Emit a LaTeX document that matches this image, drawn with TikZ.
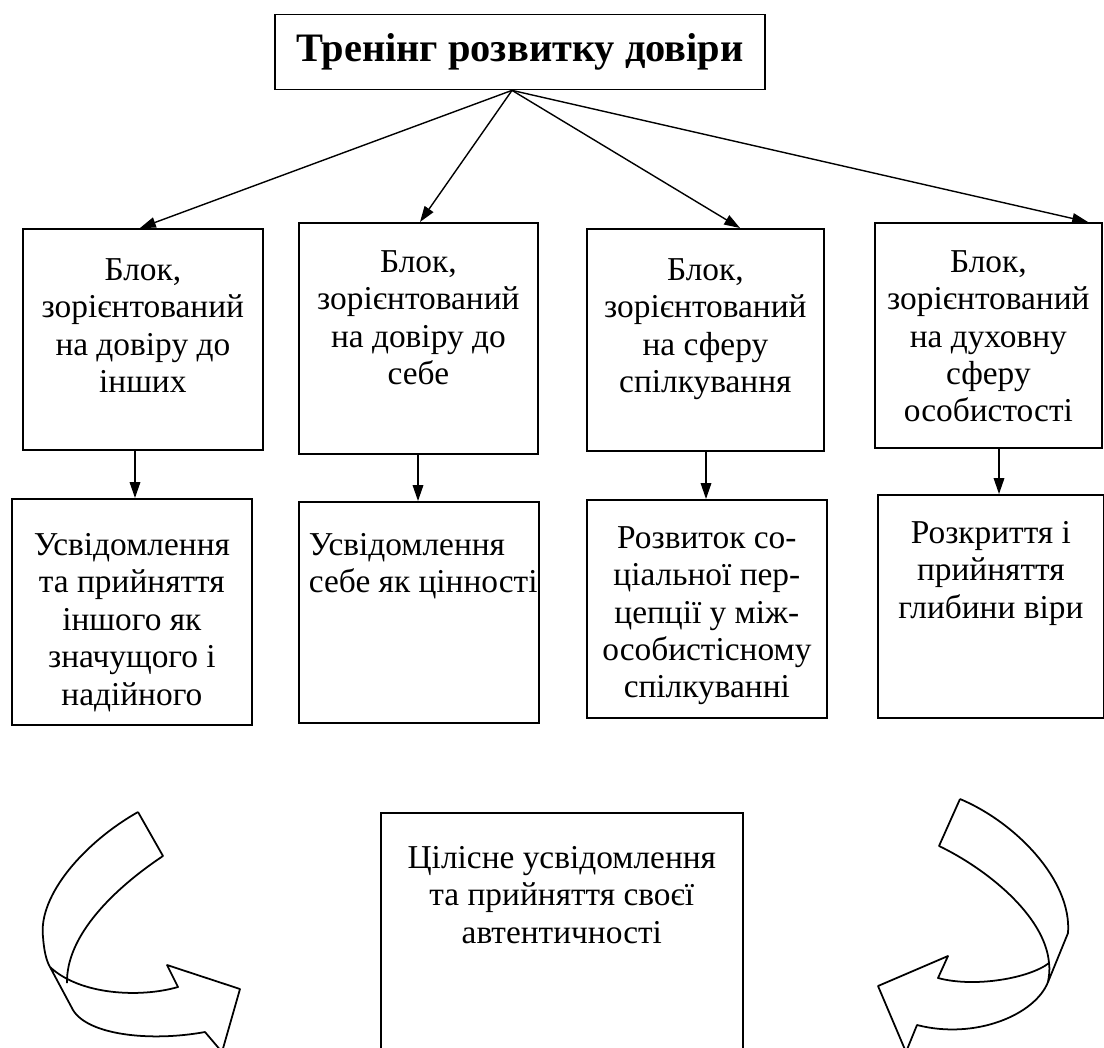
\documentclass[tikz,border=0pt]{standalone}
\usepackage{fontspec}
\setmainfont{Liberation Serif}
\usetikzlibrary{arrows.meta,calc}
\newcommand{\cellbox}[4][0.6cm]{\parbox[c][#3][t]{#2}{\centering\vspace*{#1}#4}}

\begin{document}
\begin{tikzpicture}[x=0.02cm, y=-0.02cm,
	block_node/.style={draw, line width=1pt, inner sep=0pt, anchor=north west, font=\fontsize{19}{21.3}\selectfont},
	arrow_line/.style={line width=0.8pt, -{Triangle[width=6pt,length=9pt]}},
	ribbon/.style={line width=1pt, line join=round}]
	\useasboundingbox (0,0) rectangle (1104,1047);
	\clip (0,0) rectangle (1104,1047);
	\node[draw, line width=1pt, minimum width=9.8cm, minimum height=1.5cm, font=\fontsize{23}{27}\selectfont\bfseries] (0) at (520,52) {Тренінг розвитку довіри};
	\coordinate (hub) at ($(0.south)+(-8,0)$);

	\node[block_node] (1) at (22,228) {\cellbox[0.59cm]{4.8cm}{4.42cm}{Блок,\\ зорієнтований\\ на довіру до\\ інших}};
	\node[block_node] (2) at (298,222) {\cellbox[0.55cm]{4.78cm}{4.62cm}{Блок,\\ зорієнтований\\ на довіру до\\ себе}};
	\node[block_node] (3) at (586,228) {\cellbox[0.59cm]{4.74cm}{4.44cm}{Блок,\\ зорієнтований\\ на сферу\\ спілкування}};
	\node[block_node] (4) at (874,222) {\cellbox[0.55cm]{4.54cm}{4.5cm}{Блок,\\ зорієнтований\\ на духовну\\ сферу\\ особистості}};

	\node[block_node] (5) at (11,498) {\cellbox[0.69cm]{4.8cm}{4.52cm}{Усвідомлення\\ та прийняття\\ іншого як\\ значущого і\\ надійного}};
	\node[block_node] (6) at (298,501) {\parbox[c][4.42cm][t]{4.8cm}{\raggedright\leftskip=0.2cm\vspace*{0.63cm}Усвідомлення\\ себе як цінності}};
	\node[block_node] (7) at (586,499) {\cellbox[0.53cm]{4.8cm}{4.36cm}{Розвиток со-\\ ціальної пер-\\ цепції у між-\\ особистісному\\ спілкуванні}};
	\node[block_node] (8) at (877,494) {\cellbox[0.53cm]{4.52cm}{4.46cm}{Розкриття і\\ прийняття\\ глибини віри}};

	\node[block_node] (9) at (380,812) {\cellbox[0.67cm]{7.24cm}{5cm}{Цілісне усвідомлення\\ та прийняття своєї\\ автентичності}};

	\draw[arrow_line] (hub) -- ($(1.north west)+(118,0)$);
	\draw[arrow_line] (hub) -- ($(2.north west)+(122,0)$);
	\draw[arrow_line] (hub) -- ($(3.north west)+(154,0)$);
	\draw[arrow_line] (hub) -- ($(4.north west)+(214,0)$);

	\draw[arrow_line] ($(1.south west)+(113,0)$) -- ($(5.north west)+(124,0)$);
	\draw[arrow_line] ($(2.south west)+(120,0)$) -- ($(6.north west)+(120,0)$);
	\draw[arrow_line] ($(3.south west)+(120,0)$) -- ($(7.north west)+(120,0)$);
	\draw[arrow_line] ($(4.south west)+(125,0)$) -- ($(8.north west)+(122,0)$);

	\draw[ribbon] (138,812) -- (163,856) .. controls (115,888) and (66,935) .. (67,983);
	\draw[ribbon] (138,812) .. controls (85,842) and (38,895) .. (43,937) .. controls (44,950) and (46,960) .. (50,967)
		-- (73,1010) .. controls (88,1035) and (150,1042) .. (205,1032) -- (222,1052) -- (240,989) -- (167,965) -- (178,987)
		.. controls (140,998) and (80,995) .. (50,967);

	\draw[ribbon] (960,799) -- (939,846) .. controls (985,868) and (1045,915) .. (1049,963) .. controls (1050,970) and (1049,976) .. (1048,982)
		.. controls (1035,1015) and (975,1040) .. (917,1025) -- (906,1052) -- (878,986) -- (948,956) -- (938,978)
		.. controls (975,988) and (1030,978) .. (1049,963);
	\draw[ribbon] (960,799) .. controls (1015,822) and (1072,880) .. (1068,933) -- (1048,982);
\end{tikzpicture}
\end{document}
